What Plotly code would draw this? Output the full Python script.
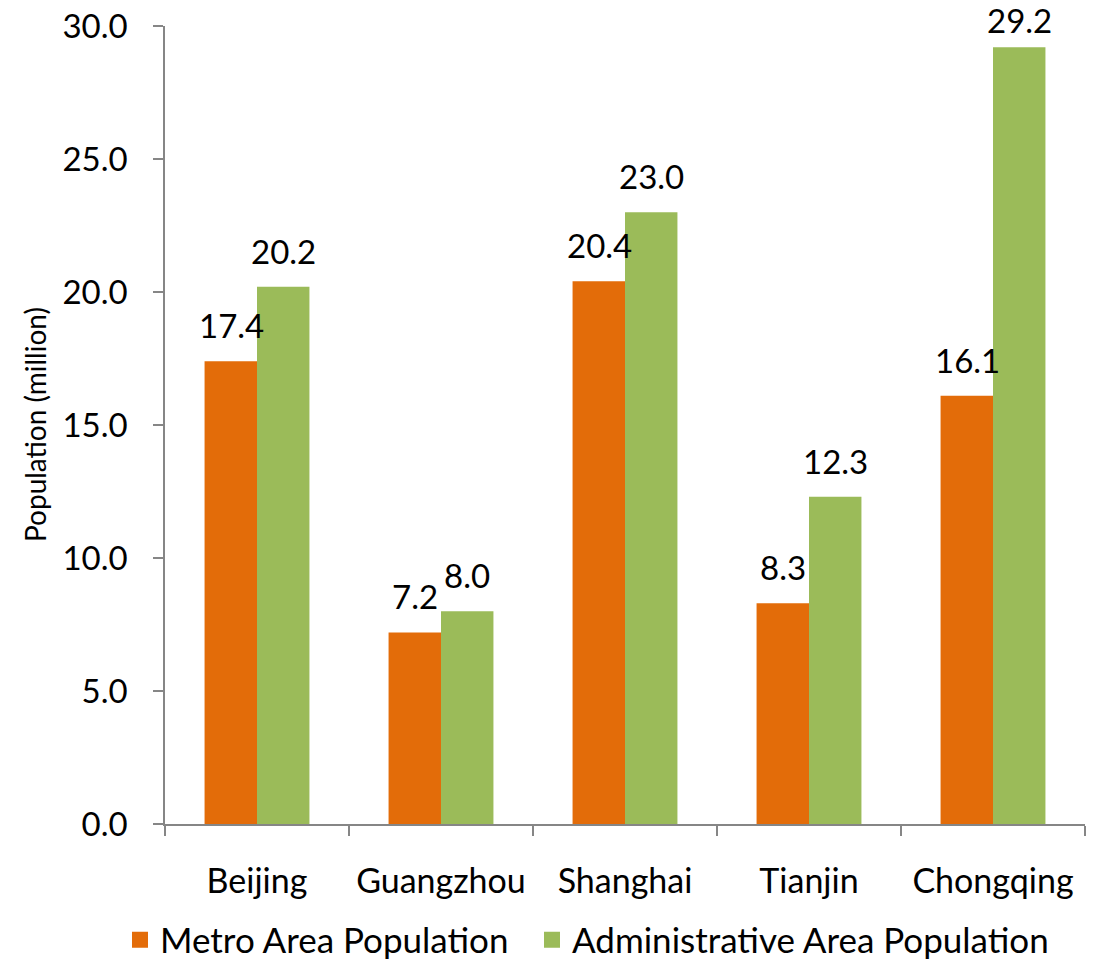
import plotly.graph_objects as go

cities = ["Beijing", "Guangzhou", "Shanghai", "Tianjin", "Chongqing"]
metro = [17.4, 7.2, 20.4, 8.3, 16.1]
admin = [20.2, 8.0, 23.0, 12.3, 29.2]
series_names = ["Metro Area Population", "Administrative Area Population"]
y_ticks = [0, 5, 10, 15, 20, 25, 30]

FONT = "Lato"
ORANGE = "#E36C09"
GREEN = "#9BBB59"
AXIS = "#868686"
LABEL_SIZE = 33

W, H = 1094, 959
ML, MR, MT, MB = 165, 9, 26, 135
PW = W - ML - MR
PH = H - MT - MB

fig = go.Figure()
for vals, name, col in [(metro, series_names[0], ORANGE), (admin, series_names[1], GREEN)]:
    fig.add_trace(go.Bar(
        x=cities, y=vals, name=name, showlegend=False,
        marker=dict(color=col, line=dict(width=0)),
    ))
# legend entries with larger square swatches, one legend box per entry
for name, col, lg in [(series_names[0], ORANGE, "legend"), (series_names[1], GREEN, "legend2")]:
    fig.add_trace(go.Scatter(
        x=[None], y=[None], mode="markers", name=name, legend=lg,
        marker=dict(symbol="square", size=22, color=col),
    ))

# value labels above bars (the tallest one sits a little closer so it stays on the page)
annotations = []
for vals, shift in [(metro, -26), (admin, 26)]:
    for c, v in zip(cities, vals):
        annotations.append(dict(
            x=c, y=v, xref="x", yref="y", text=f"{v:.1f}", showarrow=False,
            xanchor="center", yanchor="bottom", xshift=shift,
            yshift=14 if v < 28 else 5,
            font=dict(family=FONT, size=LABEL_SIZE, color="black"),
        ))
annotations.append(dict(
    x=-(ML - 35) / PW, y=0.5, xref="paper", yref="paper",
    text="Population (million)", textangle=-90, showarrow=False,
    xanchor="center", yanchor="middle",
    font=dict(family=FONT, size=28, color="black"),
))

legend_common = dict(orientation="h", xref="container", xanchor="left",
                     yref="container", y=1 - 940 / H, yanchor="middle",
                     font=dict(family=FONT, size=35, color="black"),
                     itemwidth=30, bgcolor="rgba(0,0,0,0)")

fig.update_layout(
    width=W, height=H,
    margin=dict(l=ML, r=MR, t=MT, b=MB, autoexpand=False),
    paper_bgcolor="white", plot_bgcolor="white",
    barmode="group", bargap=0.43, bargroupgap=0,
    font=dict(family=FONT, size=33, color="black"),
    showlegend=True,
    legend=dict(legend_common, x=120 / W),
    legend2=dict(legend_common, x=532 / W),
    annotations=annotations,
)
fig.update_xaxes(
    showline=True, linecolor=AXIS, linewidth=1.5, automargin=False,
    ticks="outside", tickson="boundaries", ticklen=10, tickcolor=AXIS, tickwidth=1.5,
    ticklabelstandoff=26, showgrid=False,
    tickfont=dict(family=FONT, size=34, color="black"),
)
fig.update_yaxes(
    range=[0, 30], tickvals=y_ticks, tickformat=".1f", automargin=False,
    showline=True, linecolor=AXIS, linewidth=1.5,
    ticks="outside", ticklen=10, tickcolor=AXIS, tickwidth=1.5,
    ticklabelstandoff=19, showgrid=False, zeroline=False,
    tickfont=dict(family=FONT, size=33, color="black"),
)

fig.write_html("out.html", config={"displayModeBar": False},
               post_script="document.body.style.margin='0px';")
